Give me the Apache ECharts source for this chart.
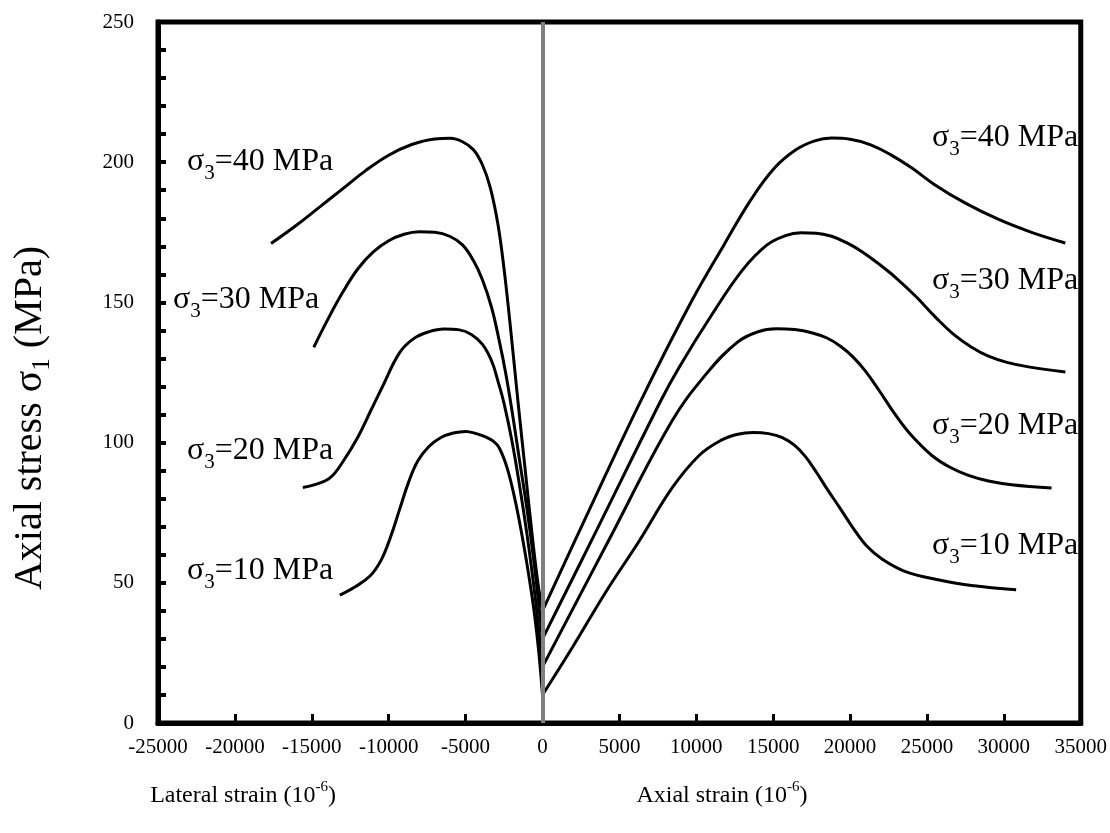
<!DOCTYPE html>
<html><head><meta charset="utf-8">
<script src="https://cdn.jsdelivr.net/npm/echarts@6/dist/echarts.min.js"></script>
<style>html,body{margin:0;padding:0;background:#fff}#c{width:1110px;height:833px}</style>
</head><body><div id="c"></div>
<script>
// ---- data (strain in 10^-6, stress in MPa) ----
const confining = ['40', '30', '20', '10'];

const axial40_x = [0, 3000, 6400, 9700, 11800, 13600, 15100, 16500, 17700, 18800, 20000, 21300, 22600, 24000, 25500, 27500, 29700, 31800, 34000];
const axial40_y = [40, 75.5, 115, 150.5, 170.5, 187, 198, 204.5, 207.6, 208.6, 208.2, 206.3, 202.8, 198, 192, 185.4, 179.5, 175, 171.2];
const axial30_x = [0, 3500, 7700, 8900, 11000, 13000, 14600, 15800, 16800, 17800, 18800, 19800, 20800, 21800, 23000, 24300, 25600, 26800, 27900, 29000, 30200, 31600, 34000];
const axial30_y = [30, 68.5, 115, 127, 145.5, 161.5, 170.5, 173.8, 174.8, 174.7, 173.6, 171.2, 168, 164, 158.7, 152, 144.5, 138.3, 134, 130.8, 128.6, 127, 125.2];
const axial20_x = [0, 4200, 8400, 10650, 12600, 14000, 15200, 16400, 17500, 18500, 19400, 20200, 21000, 21900, 23000, 24000, 25300, 26500, 27700, 29000, 30500, 33100];
const axial20_y = [20, 64, 107.5, 124.5, 135.5, 139.5, 140.6, 140.3, 139.2, 137.3, 134.3, 130.5, 125.5, 118.5, 109.5, 102.5, 95.5, 91.2, 88.3, 86.3, 85, 83.8];
const axial10_x = [0, 1950, 4150, 6300, 8450, 10200, 11600, 12700, 13700, 14700, 15600, 16400, 17100, 17800, 18500, 19300, 20200, 21100, 22100, 23600, 25800, 27900, 30800];
const axial10_y = [10, 27, 47, 65, 84, 95.5, 100.8, 103, 103.6, 103.2, 101.8, 99, 95, 89.5, 83.5, 77, 69.5, 63, 58.4, 54, 51, 49, 47.5];

const lateral40_x = [-17650, -16000, -14500, -13000, -11500, -10000, -8500, -7000, -6000, -5200, -4500, -3900, -3400, -2900, -2500, -2100, -1600, -1100, -650, -300, 0];
const lateral40_y = [171, 177.5, 184, 190.5, 197, 202.5, 206.3, 208.3, 208.5, 207.3, 204.5, 199, 191, 178, 162, 142, 115, 89, 66, 50, 40];
const lateral30_x = [-14870, -14000, -13000, -12000, -11000, -10000, -9000, -8000, -7000, -6000, -5200, -4500, -3900, -3300, -2800, -2400, -2000, -1500, -1000, -500, -200, 0];
const lateral30_y = [134, 143.5, 153.5, 162, 168, 172, 174.3, 175.2, 175, 173.5, 170.5, 165, 158, 148, 136, 125, 112, 94, 76, 55, 40, 30];
const lateral20_x = [-15580, -14800, -13800, -13000, -12000, -11200, -10400, -9300, -8400, -7400, -6400, -5400, -4600, -3900, -3300, -2900, -2500, -2000, -1500, -1000, -500, -200, 0];
const lateral20_y = [84, 85, 87.5, 93, 102, 111, 120, 132, 137, 139.5, 140.5, 140.2, 138.5, 135, 129, 122, 114, 101, 85, 67, 46, 31, 20];
const lateral10_x = [-13180, -12200, -11200, -10500, -9900, -9300, -8700, -8100, -7400, -6600, -5800, -5000, -4300, -3700, -3200, -2800, -2300, -1800, -1300, -900, -500, -200, 0];
const lateral10_y = [45.6, 48.5, 52.5, 58, 66, 76, 86, 93.5, 98.5, 101.8, 103.4, 104, 103.2, 102, 100.5, 98, 91, 80, 66, 53, 38, 23, 10];

const xTickLabels = ['-25000', '-20000', '-15000', '-10000', '-5000', '0', '5000', '10000', '15000', '20000', '25000', '30000', '35000'];
const yTickLabels = ['0', '50', '100', '150', '200', '250'];

// ---- build ----
const FONT = "'Liberation Serif', 'Times New Roman', serif";
const zip = (xs, ys) => xs.map((x, i) => [x, ys[i]]);
const curves = [
  zip(axial40_x, axial40_y), zip(axial30_x, axial30_y), zip(axial20_x, axial20_y), zip(axial10_x, axial10_y),
  zip(lateral40_x, lateral40_y), zip(lateral30_x, lateral30_y), zip(lateral20_x, lateral20_y), zip(lateral10_x, lateral10_y)
];

const series = curves.map((d, i) => ({
  type: 'line', data: d, showSymbol: false, smooth: 0.4,
  lineStyle: { color: '#000', width: 3 }, silent: true, z: 3
}));
series.push({
  type: 'line', data: [], silent: true,
  markLine: {
    silent: true, symbol: ['none', 'none'], label: { show: false },
    lineStyle: { color: '#808080', width: 4, type: 'solid' },
    data: [{ xAxis: 0 }]
  }, z: 4
});

const rich = {
  m: { fontFamily: FONT, fontSize: 32, color: '#000', lineHeight: 44 },
  s: { fontFamily: FONT, fontSize: 21, color: '#000', lineHeight: 21, verticalAlign: 'bottom' }
};
const leftPos = [[187, 168], [173, 306], [187, 457], [187, 577]];
const rightPos = [[932, 144], [932, 287], [932, 432], [932, 552]];
const graphic = [];
confining.forEach((c, i) => {
  [leftPos[i], rightPos[i]].forEach(p => {
    graphic.push({
      type: 'text', left: p[0], top: p[1] - 22, silent: true,
      style: { text: '{m|σ}{s|3}{m|=' + c + ' MPa}', rich: rich }
    });
  });
});
const richT = {
  m: { fontFamily: FONT, fontSize: 24, color: '#000', lineHeight: 32 },
  p: { fontFamily: FONT, fontSize: 15, color: '#000', lineHeight: 15, verticalAlign: 'top' }
};
graphic.push({ type: 'text', x: 243, y: 796, silent: true,
  style: { text: '{m|Lateral strain (10}{p|-6}{m|)}', rich: richT, align: 'center', verticalAlign: 'middle' } });
graphic.push({ type: 'text', x: 722, y: 796, silent: true,
  style: { text: '{m|Axial strain (10}{p|-6}{m|)}', rich: richT, align: 'center', verticalAlign: 'middle' } });
const richY = {
  m: { fontFamily: FONT, fontSize: 40, color: '#000', lineHeight: 50 },
  s: { fontFamily: FONT, fontSize: 25, color: '#000', lineHeight: 25, verticalAlign: 'bottom' }
};
graphic.push({ type: 'text', x: 30, y: 418, rotation: Math.PI / 2, silent: true,
  style: { text: '{m|Axial stress σ}{s|1}{m| (MPa)}', rich: richY, align: 'center', verticalAlign: 'middle' } });

const chart = echarts.init(document.getElementById('c'), null, { renderer: 'canvas' });
chart.setOption({
  animation: false,
  backgroundColor: '#fff',
  grid: { left: 158, right: 27, top: 22, bottom: 110, show: true, borderColor: '#000', borderWidth: 5, backgroundColor: 'transparent' },
  xAxis: {
    type: 'value', min: -25000, max: 35000, interval: 5000,
    axisLine: { onZero: false, lineStyle: { color: '#000', width: 5 } },
    axisTick: { inside: true, length: 9, lineStyle: { color: '#000', width: 3 } },
    axisLabel: { color: '#000', fontFamily: FONT, fontSize: 21, margin: 14,
      formatter: v => xTickLabels[Math.round((v + 25000) / 5000)] },
    splitLine: { show: false }
  },
  yAxis: {
    type: 'value', min: 0, max: 250, interval: 50,
    axisLine: { onZero: false, lineStyle: { color: '#000', width: 5 } },
    axisTick: { inside: true, length: 8, lineStyle: { color: '#000', width: 4 } },
    minorTick: { show: true, splitNumber: 5, length: 8, lineStyle: { color: '#000', width: 4 } },
    axisLabel: { color: '#000', fontFamily: FONT, fontSize: 21, margin: 24,
      formatter: v => yTickLabels[Math.round(v / 50)] },
    splitLine: { show: false }
  },
  series: series,
  graphic: graphic
});
</script></body></html>
